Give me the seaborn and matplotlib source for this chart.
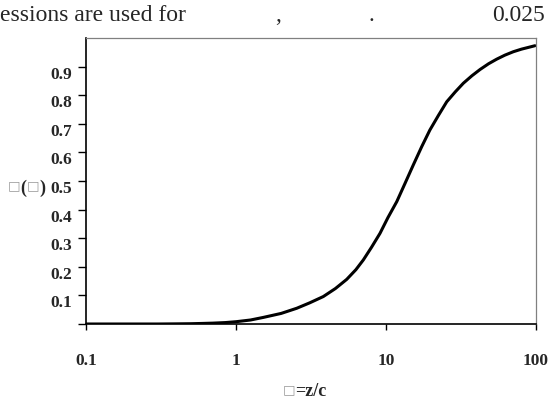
import matplotlib
matplotlib.use("Agg")
import matplotlib.pyplot as plt
import matplotlib.transforms as mtransforms
import seaborn as sns
import pandas as pd

# Data
xi_values = [0.1, 0.2, 0.3, 0.4, 0.5, 0.6, 0.7, 0.85, 1.0, 1.25, 1.52, 2.0, 2.54, 3.1, 3.82,
             4.6, 5.47, 6.3, 7.06, 8.0, 9.12, 10.3, 11.8, 13.4, 15.2, 17.3, 19.6, 22.4,
             25.4, 29.0, 32.8, 37.4, 42.4, 48.3, 54.7, 62.0, 70.6, 80.0, 98.4]
f_values = [0.0, 0.0, 0.0, 0.0005, 0.001, 0.002, 0.003, 0.005, 0.008, 0.014, 0.023, 0.037,
            0.055, 0.074, 0.096, 0.124, 0.156, 0.19, 0.224, 0.268, 0.317, 0.372, 0.428,
            0.492, 0.556, 0.62, 0.678, 0.73, 0.777, 0.812, 0.842, 0.868, 0.890, 0.910,
            0.926, 0.940, 0.952, 0.961, 0.973]
x_ticks = [0.1, 1, 10, 100]
x_tick_labels = ["0.1", "1", "10", "100"]
y_ticks = [0.0, 0.1, 0.2, 0.3, 0.4, 0.5, 0.6, 0.7, 0.8, 0.9]
y_tick_labels = ["", "0.1", "0.2", "0.3", "0.4", "0.5", "0.6", "0.7", "0.8", "0.9"]

sns.set_style("white")
fam = ["Liberation Serif", "DejaVu Sans"]
plt.rcParams["font.family"] = fam

W, H = 548, 407
fig = plt.figure(figsize=(W / 100, H / 100), dpi=100)
ax = fig.add_axes([86 / W, 1 - 324 / H, (536 - 86) / W, (324 - 38) / H])

df = pd.DataFrame({"xi": xi_values, "f": f_values})
sns.lineplot(data=df, x="xi", y="f", ax=ax, color="black", linewidth=2.2)

ax.set_xscale("log")
ax.set_xlim(0.1, 100)
ax.set_ylim(0, 1.0)
ax.set_xticks(x_ticks)
ax.set_xticklabels(x_tick_labels)
ax.xaxis.set_minor_locator(matplotlib.ticker.NullLocator())
ax.set_yticks(y_ticks)
ax.set_yticklabels(y_tick_labels)
ax.set_xlabel("")
ax.set_ylabel("")

for lab in ax.get_xticklabels() + ax.get_yticklabels():
    lab.set_fontweight("bold")
    lab.set_fontsize(12.5)
    lab.set_family(fam)

ax.tick_params(axis="x", direction="out", length=4, width=1, color="black", pad=17, bottom=True)
ax.tick_params(axis="y", direction="out", length=6, width=1, color="black", pad=4, left=True)

# y tick labels sit a little below their ticks in the reference
offset = mtransforms.ScaledTranslation(0, -6 / 100, fig.dpi_scale_trans)
for lab in ax.get_yticklabels():
    lab.set_transform(lab.get_transform() + offset)

ax.spines["left"].set_color("black")
ax.spines["left"].set_linewidth(1.2)
ax.spines["bottom"].set_color("black")
ax.spines["bottom"].set_linewidth(1.2)
ax.spines["top"].set_color("#808080")
ax.spines["top"].set_linewidth(0.9)
ax.spines["right"].set_color("#808080")
ax.spines["right"].set_linewidth(0.9)

# top cropped sentence
ty = 1 - 15.5 / H
fig.text(0 / W, ty, "essions are used for", fontsize=17, family=fam, va="center", ha="left")
fig.text(275 / W, ty, ",", fontsize=17, family=fam, va="center", ha="left")
fig.text(369 / W, ty, ".", fontsize=17, family=fam, va="center", ha="left")
fig.text(545 / W, ty, "0.025", fontsize=17, family=fam, va="center", ha="right")

# y label pieces
gray = "#9a9a9a"
yc = 1 - 188 / H
yb = 1 - 186 / H
box_fam = ["DejaVu Sans"]
box_size = 9.5
fig.text(8 / W, yb, "□", fontsize=box_size, family=box_fam, color=gray, va="center", ha="left")
fig.text(20 / W, yc, "(", fontsize=13, family=fam, fontweight="bold", va="center", ha="left")
fig.text(27 / W, yb, "□", fontsize=box_size, family=box_fam, color=gray, va="center", ha="left")
fig.text(39.5 / W, yc, ")", fontsize=13, family=fam, fontweight="bold", va="center", ha="left")

# x label
xc = 1 - 392 / H
xb = 1 - 390 / H
fig.text(283 / W, xb, "□", fontsize=box_size, family=box_fam, color=gray, va="center", ha="left")
fig.text(295 / W, xc, "=z/c", fontsize=13, family=fam, fontweight="bold", va="center", ha="left")

fig.savefig("out.png", dpi=100)
